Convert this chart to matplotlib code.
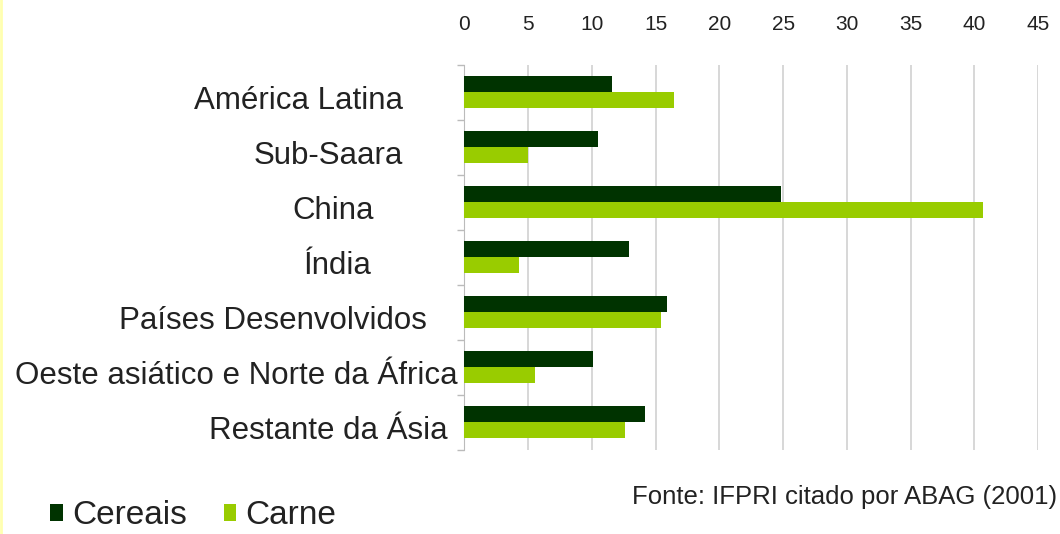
import numpy as np
import matplotlib
matplotlib.use('Agg')
import matplotlib.pyplot as plt
from matplotlib.transforms import ScaledTranslation
from matplotlib.lines import Line2D

# values
regioes = ['América Latina', 'Sub-Saara', 'China', 'Índia',
           'Países Desenvolvidos', 'Oeste asiático e Norte da África',
           'Restante da Ásia']
cereais = [11.6, 10.5, 24.8, 12.9, 15.9, 10.1, 14.2]
carne = [16.4, 5.0, 40.7, 4.3, 15.4, 5.5, 12.6]
xticks = [0, 5, 10, 15, 20, 25, 30, 35, 40, 45]
fonte = 'Fonte: IFPRI citado por ABAG (2001)'

# the source labels are not flush with the axis; gap in pixels per label
label_gap = [61, 61, 91, 93, 38, 7, 17]

DARK = '#003300'
LIGHT = '#99cc00'
GRID = '#d4d4d4'
TXT = '#222222'

plt.rcParams['font.family'] = ['Liberation Sans', 'DejaVu Sans']

fig = plt.figure(figsize=(10.6, 5.34), dpi=100)
ax = fig.add_axes([0.4382, 0.1582, 0.5411, 0.7210])

y = np.arange(len(regioes))
h = 0.29
b1 = ax.barh(y - h / 2, cereais, height=h, color=DARK, label='Cereais', zorder=3)
b2 = ax.barh(y + h / 2, carne, height=h, color=LIGHT, label='Carne', zorder=3)

ax.set_xlim(0, 45)
ax.set_ylim(len(regioes) - 0.5, -0.5)
ax.set_xticks(xticks)
ax.xaxis.tick_top()
ax.tick_params(axis='x', length=0, pad=22, labelsize=15, labelcolor=TXT)
ax.grid(axis='x', color=GRID, lw=1.3, zorder=0)

ax.set_yticks(y)
ax.set_yticklabels(regioes, fontsize=22.5, color=TXT)
ax.set_yticks(np.arange(-0.5, len(regioes), 1), minor=True)
ax.tick_params(axis='y', which='major', length=0, pad=0)
ax.tick_params(axis='y', which='minor', length=5, color='#bbbbbb', width=1)
for lab, g in zip(ax.get_yticklabels(), label_gap):
    lab.set_transform(lab.get_transform() +
                      ScaledTranslation(-g / 100, -5 / 100, fig.dpi_scale_trans))

for s in ('top', 'right', 'bottom'):
    ax.spines[s].set_visible(False)
ax.spines['left'].set_color('#bbbbbb')

fig.text(0.997, 1 - 497 / 534, fonte, ha='right', va='center', fontsize=18.5,
         color=TXT)
fig.legend(handles=[b1, b2], loc='center left',
           bbox_to_anchor=(50 / 1060, 1 - 516 / 534),
           ncol=2, frameon=False, fontsize=24, handlelength=0.38,
           handleheight=0.38, handletextpad=0.28, columnspacing=1.1,
           borderpad=0, borderaxespad=0, labelcolor=TXT)

# faint yellow edge at the left of the original picture
fig.add_artist(Line2D([0.001, 0.001], [0, 1], color='#ffffb0', lw=2,
                      transform=fig.transFigure))

fig.savefig('out.png', dpi=100)
